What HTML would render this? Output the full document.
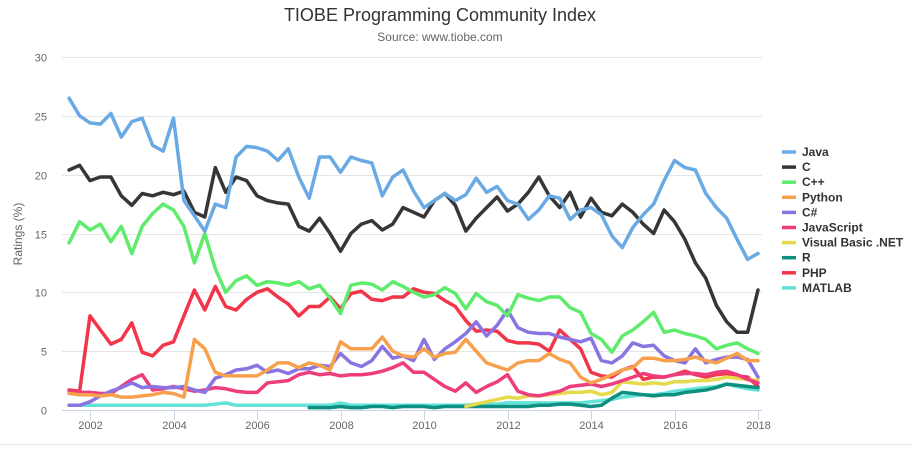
<!DOCTYPE html>
<html><head><meta charset="utf-8">
<style>
html,body{margin:0;padding:0;background:#fff;}
body{width:913px;height:453px;overflow:hidden;font-family:"Liberation Sans",sans-serif;}
svg text{font-family:"Liberation Sans",sans-serif;}
</style></head>
<body>
<svg id="chart" width="913" height="453" viewBox="0 0 913 453" xmlns="http://www.w3.org/2000/svg">
<text x="440" y="21" text-anchor="middle" font-size="18" fill="#333">TIOBE Programming Community Index</text>
<text x="440" y="41" text-anchor="middle" font-size="12" fill="#666">Source: www.tiobe.com</text>
<text transform="translate(22,234) rotate(-90)" text-anchor="middle" font-size="12" fill="#666">Ratings (%)</text>
<g id="grid"></g>
<g id="series"></g>
<g id="legend"></g>
<line x1="0" y1="444.5" x2="913" y2="444.5" stroke="#e6e6e6"/>
</svg>
<script>
const startYear = 2001.5;
const stepYears = 0.25;
const yTicks = [0,5,10,15,20,25,30];
const xTicks = [2002,2004,2006,2008,2010,2012,2014,2016,2018];
const seriesNames = ["Java","C","C++","Python","C#","JavaScript","Visual Basic .NET","R","PHP","MATLAB"];
const seriesColors = ["#6aaae4","#363636","#5feb6b","#f7a14c","#8a74e2","#ee3d7c","#e5d94c","#0f8f7f","#f23549","#62e2d9"];
const java = [26.5,25.0,24.4,24.3,25.2,23.2,24.5,24.8,22.5,22.0,24.8,17.8,16.5,15.2,17.5,17.2,21.5,22.4,22.3,22.0,21.2,22.2,19.8,18.0,21.5,21.5,20.2,21.5,21.2,21.0,18.2,19.8,20.4,18.6,17.2,17.8,18.4,17.8,18.3,19.7,18.5,19.0,17.8,17.5,16.2,17.0,18.2,18.0,16.2,17.0,17.2,16.6,14.8,13.8,15.5,16.6,17.5,19.5,21.2,20.6,20.4,18.4,17.2,16.3,14.5,12.8,13.3];
const cLang = [20.4,20.8,19.5,19.8,19.8,18.2,17.4,18.4,18.2,18.5,18.3,18.6,16.8,16.4,20.6,18.5,19.8,19.5,18.2,17.8,17.6,17.5,15.6,15.2,16.3,15.0,13.5,15.0,15.8,16.1,15.3,15.8,17.2,16.8,16.4,17.8,18.4,17.4,15.2,16.3,17.2,18.1,16.9,17.5,18.5,19.8,18.2,17.2,18.5,16.4,18.0,16.8,16.5,17.5,16.8,15.8,15.0,17.0,16.0,14.5,12.5,11.2,8.9,7.5,6.6,6.6,10.2];
const cpp = [14.2,16.0,15.3,15.8,14.3,15.6,13.3,15.6,16.7,17.5,17.0,15.6,12.5,15.0,12.0,10.0,11.0,11.4,10.6,10.9,10.8,10.6,10.9,10.3,10.6,9.5,8.2,10.6,10.8,10.7,10.2,10.9,10.5,10.0,9.6,9.8,10.4,9.9,8.6,9.9,9.2,8.9,8.0,9.8,9.5,9.3,9.6,9.6,8.7,8.3,6.5,6.0,4.9,6.3,6.8,7.5,8.3,6.6,6.8,6.5,6.3,6.0,5.2,5.5,5.7,5.2,4.8];
const python = [1.4,1.3,1.3,1.2,1.3,1.1,1.1,1.2,1.3,1.5,1.4,1.1,6.0,5.2,3.2,2.9,2.9,2.9,2.9,3.4,4.0,4.0,3.6,4.0,3.8,3.4,5.8,5.2,5.2,5.2,6.2,5.0,4.6,4.5,5.2,4.5,4.8,4.9,6.0,5.0,4.0,3.7,3.4,4.0,4.2,4.2,4.8,4.3,4.0,2.8,2.3,2.6,3.0,3.4,3.6,4.4,4.4,4.2,4.2,4.3,4.5,4.2,4.0,4.4,4.8,4.2,4.2];
const csharp = [0.4,0.4,0.7,1.2,1.6,1.9,2.3,1.9,2.0,1.9,1.9,2.0,1.7,1.5,2.7,3.0,3.4,3.5,3.8,3.2,3.4,3.1,3.5,3.5,3.8,3.7,4.8,4.0,3.7,4.2,5.4,4.4,4.6,4.2,6.0,4.3,5.2,5.8,6.5,7.5,6.3,7.2,8.5,7.0,6.6,6.5,6.5,6.2,6.0,5.8,6.1,4.2,4.0,4.6,5.7,5.4,5.5,4.6,4.2,4.0,5.2,4.0,4.3,4.5,4.5,4.3,2.8];
const javascript = [1.6,1.5,1.5,1.4,1.4,2.0,2.6,3.0,1.7,1.8,2.0,1.8,1.6,1.7,1.9,1.8,1.6,1.5,1.5,2.3,2.4,2.5,3.0,3.2,3.0,3.1,2.9,3.0,3.0,3.1,3.3,3.6,4.0,3.2,3.2,2.6,2.0,1.6,2.3,1.5,2.0,2.4,3.0,1.6,1.3,1.2,1.4,1.6,2.0,2.1,2.2,2.0,2.2,2.5,2.8,3.1,2.9,2.8,3.0,3.1,3.1,3.0,3.2,3.3,3.0,2.6,2.3];
const vbnet = [null,null,null,null,null,null,null,null,null,null,null,null,null,null,null,null,null,null,null,null,null,null,null,null,null,null,null,null,null,null,null,null,null,null,null,null,null,null,0.3,0.5,0.7,0.9,1.1,1.0,1.2,1.2,1.3,1.4,1.5,1.5,1.6,1.3,1.5,2.4,2.3,2.2,2.3,2.2,2.4,2.4,2.5,2.5,2.6,2.8,2.7,2.6,2.5];
const rLang = [null,null,null,null,null,null,null,null,null,null,null,null,null,null,null,null,null,null,null,null,null,null,null,0.2,0.2,0.2,0.3,0.2,0.2,0.3,0.3,0.2,0.3,0.3,0.3,0.2,0.3,0.3,0.3,0.3,0.3,0.3,0.3,0.3,0.3,0.4,0.4,0.5,0.5,0.4,0.3,0.4,1.0,1.5,1.4,1.3,1.2,1.3,1.3,1.5,1.6,1.7,1.9,2.2,2.1,2.0,1.9];
const php = [1.7,1.6,8.0,6.8,5.6,6.0,7.4,4.9,4.6,5.5,5.8,8.0,10.2,8.5,10.5,8.8,8.5,9.4,10.0,10.3,9.6,9.0,8.0,8.8,8.8,9.6,8.6,9.9,10.1,9.4,9.3,9.6,9.6,10.3,10.0,9.9,9.3,8.8,7.6,6.7,6.8,6.7,5.9,5.7,5.7,5.6,5.0,6.8,6.0,5.2,3.2,2.9,2.8,3.4,3.7,2.6,2.8,2.8,3.0,3.3,3.0,2.8,3.0,3.1,2.9,2.8,2.0];
const matlab = [0.4,0.4,0.4,0.4,0.4,0.4,0.4,0.4,0.4,0.4,0.4,0.4,0.4,0.4,0.5,0.6,0.4,0.4,0.4,0.4,0.4,0.4,0.4,0.4,0.4,0.4,0.6,0.4,0.4,0.4,0.4,0.4,0.4,0.4,0.4,0.4,0.4,0.4,0.4,0.5,0.5,0.5,0.6,0.6,0.6,0.6,0.6,0.6,0.6,0.6,0.7,0.8,0.9,1.1,1.2,1.3,1.3,1.4,1.6,1.7,1.8,1.9,2.0,2.2,2.0,1.8,1.7];
const seriesData = [java,cLang,cpp,python,csharp,javascript,vbnet,rLang,php,matlab];

const NS = "http://www.w3.org/2000/svg";
const plotLeft = 62, plotRight = 762, plotTop = 57, plotBottom = 410;
function xScale(year){ return 90 + (year - 2002) * (758 - 90) / 16; }
function yScale(v){ return plotBottom - v * (plotBottom - plotTop) / 30; }
function mk(tag, attrs){ const e = document.createElementNS(NS, tag); for (const k in attrs) e.setAttribute(k, attrs[k]); return e; }

const grid = document.getElementById('grid');
yTicks.forEach(t => {
  const y = Math.round(yScale(t)) + 0.5;
  const ln = mk('line', {x1: plotLeft, x2: plotRight, y1: y, y2: y, stroke: t === 0 ? '#ccd6eb' : '#e6e6e6'});
  
  
  grid.appendChild(ln);
  const tx = mk('text', {x: 47, y: y + 4, 'text-anchor': 'end', 'font-size': 11, fill: '#666'});
  
  
  tx.textContent = t;
  grid.appendChild(tx);
});
xTicks.forEach(t => {
  const x = Math.round(xScale(t)) + 0.5;
  const tk = mk('line', {x1: x, x2: x, y1: plotBottom, y2: plotBottom + 10, stroke: '#ccd6eb'});
  
  
  grid.appendChild(tk);
  const tx = mk('text', {x: x, y: 429, 'text-anchor': 'middle', 'font-size': 11, fill: '#666'});
  
  
  tx.textContent = t;
  grid.appendChild(tx);
});

const sg = document.getElementById('series');
for (let s = seriesData.length - 1; s >= 0; s--) {
  const vals = seriesData[s];
  let d = '', pen = false;
  vals.forEach((v, i) => {
    if (v === null) { pen = false; return; }
    const x = xScale(startYear + i * stepYears).toFixed(1), y = yScale(v).toFixed(1);
    d += (pen ? 'L' : 'M') + x + ' ' + y + ' ';
    pen = true;
  });
  const p = mk('path', {d: d, fill: 'none', stroke: seriesColors[s], 'stroke-width': 3.5, 'stroke-linejoin': 'round', 'stroke-linecap': 'round'});
  
  
  sg.appendChild(p);
}

const lg = document.getElementById('legend');
seriesNames.forEach((n, i) => {
  const y = 152 + i * 15.1;
  const g = mk('g', {});
  
  
  const ln = mk('line', {x1: 782, x2: 796, y1: y, y2: y, stroke: seriesColors[i], 'stroke-width': 3.5});
  
  
  g.appendChild(ln);
  const tx = mk('text', {x: 802, y: y + 4, 'font-size': 12, 'font-weight': 'bold', fill: '#333'});
  
  
  tx.textContent = n;
  g.appendChild(tx);
  lg.appendChild(g);
});
</script>
</body></html>
